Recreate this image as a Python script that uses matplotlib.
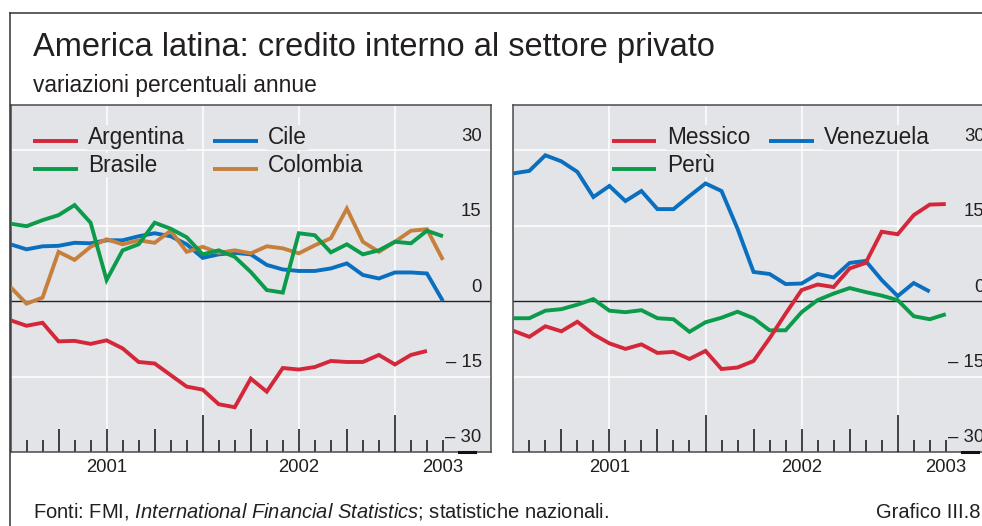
import matplotlib
matplotlib.use("Agg")
import matplotlib.pyplot as plt
import matplotlib.transforms as mtransforms
from matplotlib.lines import Line2D

plt.rcParams['font.family'] = ['Liberation Sans', 'DejaVu Sans']
plt.rcParams['mathtext.fontset'] = 'custom'
plt.rcParams['mathtext.rm'] = 'Liberation Sans'
plt.rcParams['mathtext.it'] = 'Liberation Sans:italic'

# ---------------- data (monthly observations, index 0 = Jan 2001) ----------------
months = list(range(28))

argentina = [-3.8, -4.9, -4.3, -8.0, -7.9, -8.5, -7.8, -9.4, -12.1, -12.4, -14.7, -17.0, -17.6,
             -20.5, -21.1, -15.4, -18.0, -13.3, -13.6, -13.1, -11.9, -12.1, -12.1, -10.7, -12.6,
             -10.7, -9.9]
cile = [11.3, 10.3, 10.9, 11.0, 11.6, 11.5, 12.1, 12.1, 12.9, 13.5, 12.9, 11.3, 8.6, 9.3, 9.6,
        9.3, 7.2, 6.3, 6.0, 6.0, 6.5, 7.5, 5.2, 4.5, 5.7, 5.7, 5.5, 0.0]
brasile = [15.4, 14.9, 16.1, 17.1, 19.1, 15.6, 4.2, 10.1, 11.3, 15.6, 14.4, 12.7, 9.3, 10.1, 8.8,
           5.8, 2.2, 1.7, 13.5, 13.1, 9.7, 11.3, 9.3, 10.1, 11.8, 11.5, 14.0, 12.9]
colombia = [2.8, -0.5, 0.7, 9.8, 8.2, 10.8, 12.3, 11.3, 12.1, 11.6, 14.0, 9.8, 10.8, 9.6, 10.1,
            9.5, 10.9, 10.5, 9.5, 11.1, 12.5, 18.4, 11.8, 9.8, 11.8, 14.0, 14.3, 8.2]

messico = [-5.9, -7.1, -5.0, -6.0, -4.1, -6.6, -8.4, -9.5, -8.6, -10.3, -10.1, -11.5, -9.9, -13.5,
           -13.2, -11.9, -7.4, -2.5, 2.2, 3.3, 2.8, 6.5, 7.6, 13.8, 13.3, 17.1, 19.2, 19.3]
venezuela = [25.4, 25.9, 29.0, 27.8, 25.7, 20.7, 22.9, 19.9, 21.9, 18.3, 18.3, 20.9, 23.4, 21.9,
             14.4, 5.8, 5.4, 3.4, 3.5, 5.4, 4.7, 7.6, 8.0, 4.2, 1.0, 3.6, 1.9]
peru = [-3.4, -3.4, -1.9, -1.6, -0.7, 0.4, -1.9, -2.2, -1.8, -3.4, -3.6, -6.1, -4.2, -3.3, -2.1,
        -3.4, -5.8, -5.8, -2.2, 0.2, 1.5, 2.6, 1.8, 1.1, 0.2, -3.0, -3.6, -2.6]

y_ticks = [30, 15, 0, -15, -30]
y_tick_labels = ['30', '15', '0', '\u2013 15', '\u2013 30']
year_pos = [6, 18, 27]
year_labels = ['2001', '2002', '2003']
grid_x = [6, 12, 18, 24]
grid_y = [30, 15, -15]
tall_ticks = [12, 24]
medium_ticks = [3, 6, 9, 15, 18, 21]
small_ticks = [1, 2, 4, 5, 7, 8, 10, 11, 13, 14, 16, 17, 19, 20, 22, 23, 25, 26, 27]

TITLE = "America latina: credito interno al settore privato"
SUBTITLE = "variazioni percentuali annue"
FOOTER = r"Fonti: FMI, $\it{International\ Financial\ Statistics}$; statistiche nazionali."
CHART_ID = "Grafico III.8"

# ---------------- style ----------------
RED = '#d4283a'
BLUE = '#0a6fbf'
GREEN = '#0b9b4a'
ORANGE = '#c4803c'
BG = '#e3e4e8'
TXT = '#231f20'
SPINE = '#4a4a4a'
TICK = '#111111'

W, H = 982, 526
fig = plt.figure(figsize=(W / 100, H / 100), dpi=100)
fig.patch.set_facecolor('white')


def fx(px):
    return px / W


def fy(py):
    return 1 - py / H


AX_TOP, AX_BOT, AX_W = 105, 452, 480.5
ax1 = fig.add_axes([fx(10.5), fy(AX_BOT), AX_W / W, (AX_BOT - AX_TOP) / H])
ax2 = fig.add_axes([fx(513.3), fy(AX_BOT), AX_W / W, (AX_BOT - AX_TOP) / H])


def style_panel(ax, series):
    ax.set_facecolor(BG)
    ax.set_xlim(0, 30)
    ax.set_ylim(-30, 39)
    for g in grid_x:
        ax.axvline(g, color='white', lw=1.1, zorder=1)
    for g in grid_y:
        ax.axhline(g, color='white', lw=1.1, zorder=1)
    ax.axhline(0, color='#222222', lw=1.0, zorder=2)
    for vals, color in series:
        ax.plot(months[:len(vals)], vals, color=color, lw=2.8, zorder=3,
                solid_joinstyle='miter', solid_capstyle='butt')
    for sp in ax.spines.values():
        sp.set_color(SPINE)
        sp.set_linewidth(1.1)
    ax.set_yticks([])
    # x ticks: medium (quarters) + small (months)
    ax.set_xticks(medium_ticks)
    ax.set_xticks(small_ticks, minor=True)
    ax.tick_params(axis='x', which='major', direction='in', length=16.6, width=1.1,
                   color=TICK, labelbottom=False)
    ax.tick_params(axis='x', which='minor', direction='in', length=8.6, width=1.1,
                   color=TICK, labelbottom=False)
    sec = ax.secondary_xaxis('bottom')
    sec.set_zorder(5)
    sec.set_xticks(tall_ticks)
    sec.tick_params(direction='in', length=27, width=1.1, color=TICK, labelbottom=False)
    sec.spines['bottom'].set_visible(False)
    sec2 = ax.secondary_xaxis('bottom')
    sec2.set_xticks(year_pos, labels=year_labels)
    sec2.tick_params(length=0, pad=5.2, labelsize=13.3, labelcolor=TXT)
    sec2.spines['bottom'].set_visible(False)
    # short dark segment on the bottom axis
    ax.axhline(-30, xmin=28 / 30, xmax=29 / 30, color=TICK, lw=2.2, zorder=5, clip_on=False)
    # y tick labels inside, right side, above gridlines
    trans = mtransforms.blended_transform_factory(ax.transAxes, ax.transData) + \
        mtransforms.ScaledTranslation(-9.3 / 100, 9.5 / 100, fig.dpi_scale_trans)
    for v, lab in zip(y_ticks, y_tick_labels):
        ax.text(1, v, lab, transform=trans, ha='right', va='baseline', fontsize=13.3,
                color=TXT, zorder=6)


style_panel(ax1, [(argentina, RED), (cile, BLUE), (colombia, ORANGE), (brasile, GREEN)])
style_panel(ax2, [(venezuela, BLUE), (peru, GREEN), (messico, RED)])

# ---------------- legends (figure pixel layout) ----------------
ROW_BASE = [144, 171.7]
LINE_LEN, TEXT_GAP = 44.5, 10.5
legend_entries = [
    ('Argentina', RED, 33, 0), ('Cile', BLUE, 213, 0),
    ('Brasile', GREEN, 33, 1), ('Colombia', ORANGE, 213, 1),
    ('Messico', RED, 611.7, 0), ('Venezuela', BLUE, 769, 0),
    ('Per\u00f9', GREEN, 611.7, 1),
]
for lab, col, x0, row in legend_entries:
    yb = ROW_BASE[row]
    fig.add_artist(Line2D([fx(x0), fx(x0 + LINE_LEN)], [fy(yb - 2.6)] * 2, color=col,
                          lw=2.8, solid_capstyle='butt', zorder=4))
    fig.text(fx(x0 + LINE_LEN + TEXT_GAP), fy(yb), lab, fontsize=16.3, va='baseline',
             color=TXT, zorder=5,
             bbox=dict(facecolor=BG, edgecolor='none', pad=0.5))

# ---------------- frame and texts ----------------
fig.add_artist(Line2D([fx(10), fx(10)], [fy(13), 0], color='#333333', lw=1.1))
fig.add_artist(Line2D([fx(10), 1], [fy(13), fy(13)], color='#333333', lw=1.1))

fig.text(fx(33), fy(56), TITLE, fontsize=23.5, va='baseline', color=TXT)
fig.text(fx(33), fy(92), SUBTITLE, fontsize=16.4, va='baseline', color=TXT)
fig.text(fx(33), fy(518), FOOTER, fontsize=14.5, va='baseline', color=TXT)
fig.text(fx(981), fy(518), CHART_ID, fontsize=14.5, va='baseline', ha='right', color=TXT)

fig.savefig('out.png', dpi=100)
